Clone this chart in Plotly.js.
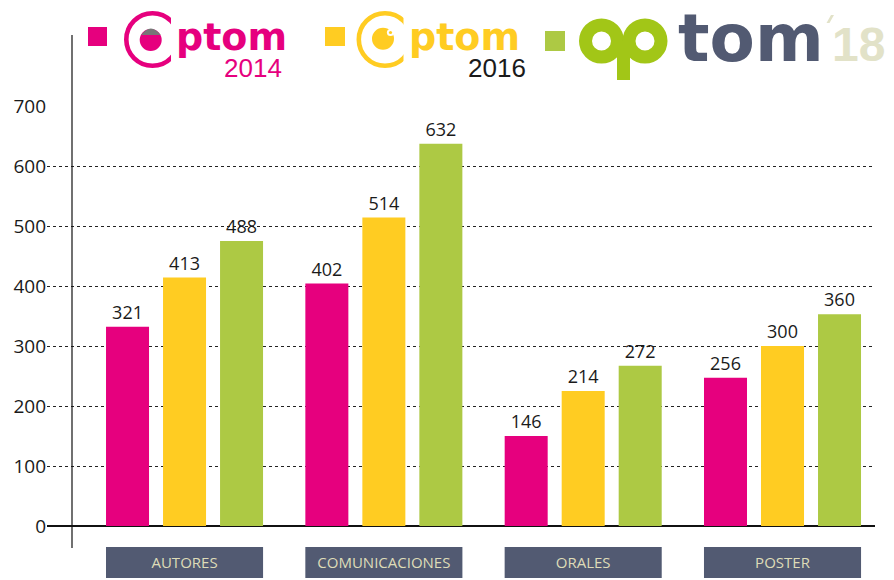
<!DOCTYPE html>
<html>
<head>
<meta charset="utf-8">
<script src="https://cdn.plot.ly/plotly-3.0.1.min.js"></script>
<style>html,body{margin:0;padding:0;background:#fff;}#chart{width:894px;height:580px;}</style>
</head>
<body>
<div id="chart"></div>
<script>
// ---- data ----
const categories = ['AUTORES', 'COMUNICACIONES', 'ORALES', 'POSTER'];
const seriesNames = ['Optom 2014', 'Optom 2016', 'OPTOM 2018'];
// bar heights as drawn in the picture
const bars2014 = [332, 404, 150, 247];
const bars2016 = [414, 514, 225, 300];
const bars2018 = [475, 637, 267, 353];
// printed value labels
const labels2014 = ['321', '402', '146', '256'];
const labels2016 = ['413', '514', '214', '300'];
const labels2018 = ['488', '632', '272', '360'];
const yTicks = [0, 100, 200, 300, 400, 500, 600, 700];

// ---- styles ----
const C14 = '#e6007e', C16 = '#ffcc22', C18 = '#adc944';
const SLATE = '#525a72', BEIGE = '#e2e2c8', LIME = '#a2c617';
const L = 47, R = 875, T = 106, B = 526;
const X = px => (px - L) / (R - L);
const Y = py => (B - py) / (B - T);

function bar(name, ys, labels, color) {
  return {
    type: 'bar', name: name, x: categories, y: ys,
    text: labels, textposition: 'outside', cliponaxis: false,
    textfont: {family: 'Open Sans', size: 18, color: '#1a1a1a'},
    marker: {color: color}, hoverinfo: 'skip'
  };
}
const data = [
  bar(seriesNames[0], bars2014, labels2014, C14),
  bar(seriesNames[1], bars2016, labels2016, C16),
  bar(seriesNames[2], bars2018, labels2018, C18)
];

const shapes = [];
// category boxes
categories.forEach((c, i) => {
  shapes.push({type: 'rect', xref: 'x', yref: 'paper', x0: i - 0.394, x1: i + 0.394,
    y0: Y(578), y1: Y(547), fillcolor: SLATE, line: {width: 0}, layer: 'below'});
});
// y axis line
shapes.push({type: 'line', xref: 'paper', yref: 'paper', x0: X(72), x1: X(72), y0: Y(35), y1: Y(548),
  line: {color: '#111', width: 1.2}, layer: 'above'});

function rect(x0, y0, x1, y1, color) {
  shapes.push({type: 'rect', xref: 'paper', yref: 'paper', x0: X(x0), x1: X(x1), y0: Y(y1), y1: Y(y0),
    fillcolor: color, line: {width: 0}, layer: 'above'});
}
function circ(cx, cy, r, fill, stroke, w) {
  shapes.push({type: 'circle', xref: 'paper', yref: 'paper', x0: X(cx - r), x1: X(cx + r), y0: Y(cy + r), y1: Y(cy - r),
    fillcolor: fill || 'rgba(0,0,0,0)', line: {color: stroke || 'rgba(0,0,0,0)', width: w || 0}, layer: 'above'});
}
// legend squares
rect(88, 27, 107, 46, C14);
rect(325, 27, 345, 46, C16);
rect(545, 31, 565, 51, C18);
// Optom 2014 logo mark
circ(152.5, 39.5, 26.2, null, C14, 4.6);
rect(171, 10, 187, 70, '#ffffff');
circ(150.7, 40, 11, C14);
shapes.push({type: 'path', xref: 'paper', yref: 'paper',
  path: 'M ' + X(141.2) + ',' + Y(35) + ' Q ' + X(150.7) + ',' + Y(22) + ' ' + X(160.8) + ',' + Y(35) + ' Z',
  fillcolor: '#777777', line: {width: 0}, layer: 'above'});
// Optom 2016 logo mark
circ(385, 39.5, 26.2, null, C16, 4.6);
rect(403.5, 10, 419.5, 70, '#ffffff');
circ(383, 38.8, 11, C16);
circ(390.5, 32.5, 3.6, '#ffffff');
circ(390.5, 32.5, 1.6, C16);
// opTOM'18 "op"
circ(601.5, 41, 16, null, LIME, 13);
circ(645, 41, 16, null, LIME, 13);
rect(617, 41, 630, 80, LIME);
// accent mark of '18
shapes.push({type: 'path', xref: 'paper', yref: 'paper',
  path: 'M ' + X(826.5) + ',' + Y(23) + ' L ' + X(829.5) + ',' + Y(23) + ' L ' + X(834) + ',' + Y(15) + ' L ' + X(831) + ',' + Y(15) + ' Z',
  fillcolor: BEIGE, line: {width: 0}, layer: 'above'});

function ann(text, px, py, anchor, family, size, color, bold) {
  return {xref: 'paper', yref: 'paper', x: X(px), y: Y(py), xanchor: anchor, yanchor: 'middle',
    text: text, showarrow: false,
    font: {family: family, size: size, color: color, weight: bold ? 'bold' : 'normal'}};
}
const annotations = [
  ann('ptom', 174, 37.5, 'left', 'DejaVu Sans', 38, C14, true),
  ann('2014', 284, 67.7, 'right', 'Liberation Sans', 26, C14, false),
  ann('ptom', 407, 37.5, 'left', 'DejaVu Sans', 38, C16, true),
  ann('2016', 528, 67.7, 'right', 'Liberation Sans', 26, '#1a1a1a', false),
  ann('tom', 676, 38.5, 'left', 'DejaVu Sans', 66, SLATE, true),
  ann('18', 830, 44, 'left', 'Liberation Sans', 48, BEIGE, true)
];

const layout = {
  width: 894, height: 580,
  margin: {l: L, r: 894 - R, t: T, b: 580 - B},
  paper_bgcolor: '#ffffff', plot_bgcolor: '#ffffff',
  showlegend: false,
  barmode: 'group', bargap: 0.142, bargroupgap: 0.2456,
  xaxis: {
    type: 'category', range: [-0.69, 3.464], showgrid: false, zeroline: false, showline: false,
    ticks: '', ticklabelstandoff: 26,
    tickfont: {family: 'Open Sans', size: 15, color: '#dedcb8'}
  },
  yaxis: {
    range: [0, 700], tickvals: yTicks, ticktext: yTicks.map(String), ticks: '',
    showgrid: true, gridcolor: '#222222', griddash: 'dot', gridwidth: 1,
    zeroline: true, zerolinecolor: '#111111', zerolinewidth: 1.5, showline: false,
    tickfont: {family: 'Open Sans', size: 19, color: '#1a1a1a'}
  },
  shapes: shapes,
  annotations: annotations
};
Plotly.newPlot('chart', data, layout, {displayModeBar: false, staticPlot: true});
</script>
</body>
</html>
